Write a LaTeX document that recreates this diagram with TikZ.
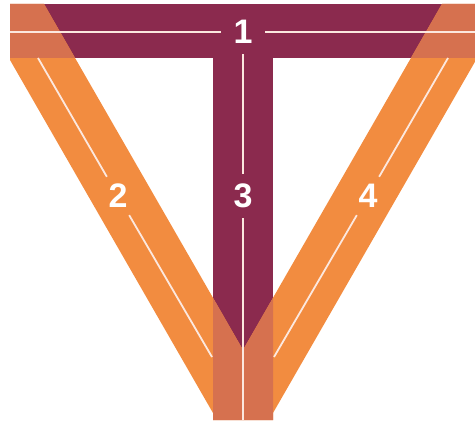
\documentclass[tikz,border=0pt]{standalone}
\usepackage{fontspec}
\newfontfamily\numfont{Liberation Sans}
\usepackage{xcolor}
\definecolor{vtmaroon}{HTML}{8B2A4E}
\definecolor{vtorange}{HTML}{F28C40}
\definecolor{vtmix}{HTML}{D6714F}
\definecolor{guidewhite}{HTML}{FCE8DF}
\usepackage{tikz}
% band outlines, in pixel units (y downwards)
\newcommand{\bandtwo}{(10,4) -- (44,4) -- (243,350) -- (243,420) -- (213,420) -- (213,413) -- (10,60) -- cycle}
\newcommand{\bandfour}{(476,4) -- (442,4) -- (243,350) -- (243,420) -- (273,420) -- (273,413) -- (476,60) -- cycle}

\begin{document}
\begin{tikzpicture}[
    x=1pt, y=-1pt,
    num/.style={circle, inner sep=0pt, minimum size=44pt, text=white,
                font=\numfont\bfseries\fontsize{34}{34}\selectfont},
    guide/.style={draw=guidewhite, line width=1.8pt}
  ]
    \useasboundingbox (0,0) rectangle (475,428);
    \clip (0,0) rectangle (475,428);

    % maroon T
    \fill[vtmaroon] (10,4) rectangle (476,58);
    \fill[vtmaroon] (213,58) rectangle (273,420);

    % orange V
    \fill[vtorange] \bandtwo;
    \fill[vtorange] \bandfour;
    \begin{scope}
      \clip (10,4) rectangle (476,58) (213,58) rectangle (273,420);
      \fill[vtmix] \bandtwo;
      \fill[vtmix] \bandfour;
    \end{scope}

    \node[num] (one) at (243,32) {1};
    \node[num] (two) at (118,196) {2};
    \node[num] (three) at (243,196) {3};
    \node[num] (four) at (368,196) {4};

    \coordinate (barL) at (10,32);
    \coordinate (barR) at (476,32);
    \coordinate (stemB) at (243,420);
    \coordinate (twoA) at (38,58);
    \coordinate (twoB) at (212,357);
    \coordinate (fourA) at (448,58);
    \coordinate (fourB) at (274,357);

    \draw[guide] (barL) -- (one);
    \draw[guide] (one) -- (barR);
    \draw[guide] (one) -- (three);
    \draw[guide] (three) -- (stemB);
    \draw[guide] (twoA) -- (two);
    \draw[guide] (two) -- (twoB);
    \draw[guide] (fourA) -- (four);
    \draw[guide] (four) -- (fourB);
  \end{tikzpicture}
\end{document}
